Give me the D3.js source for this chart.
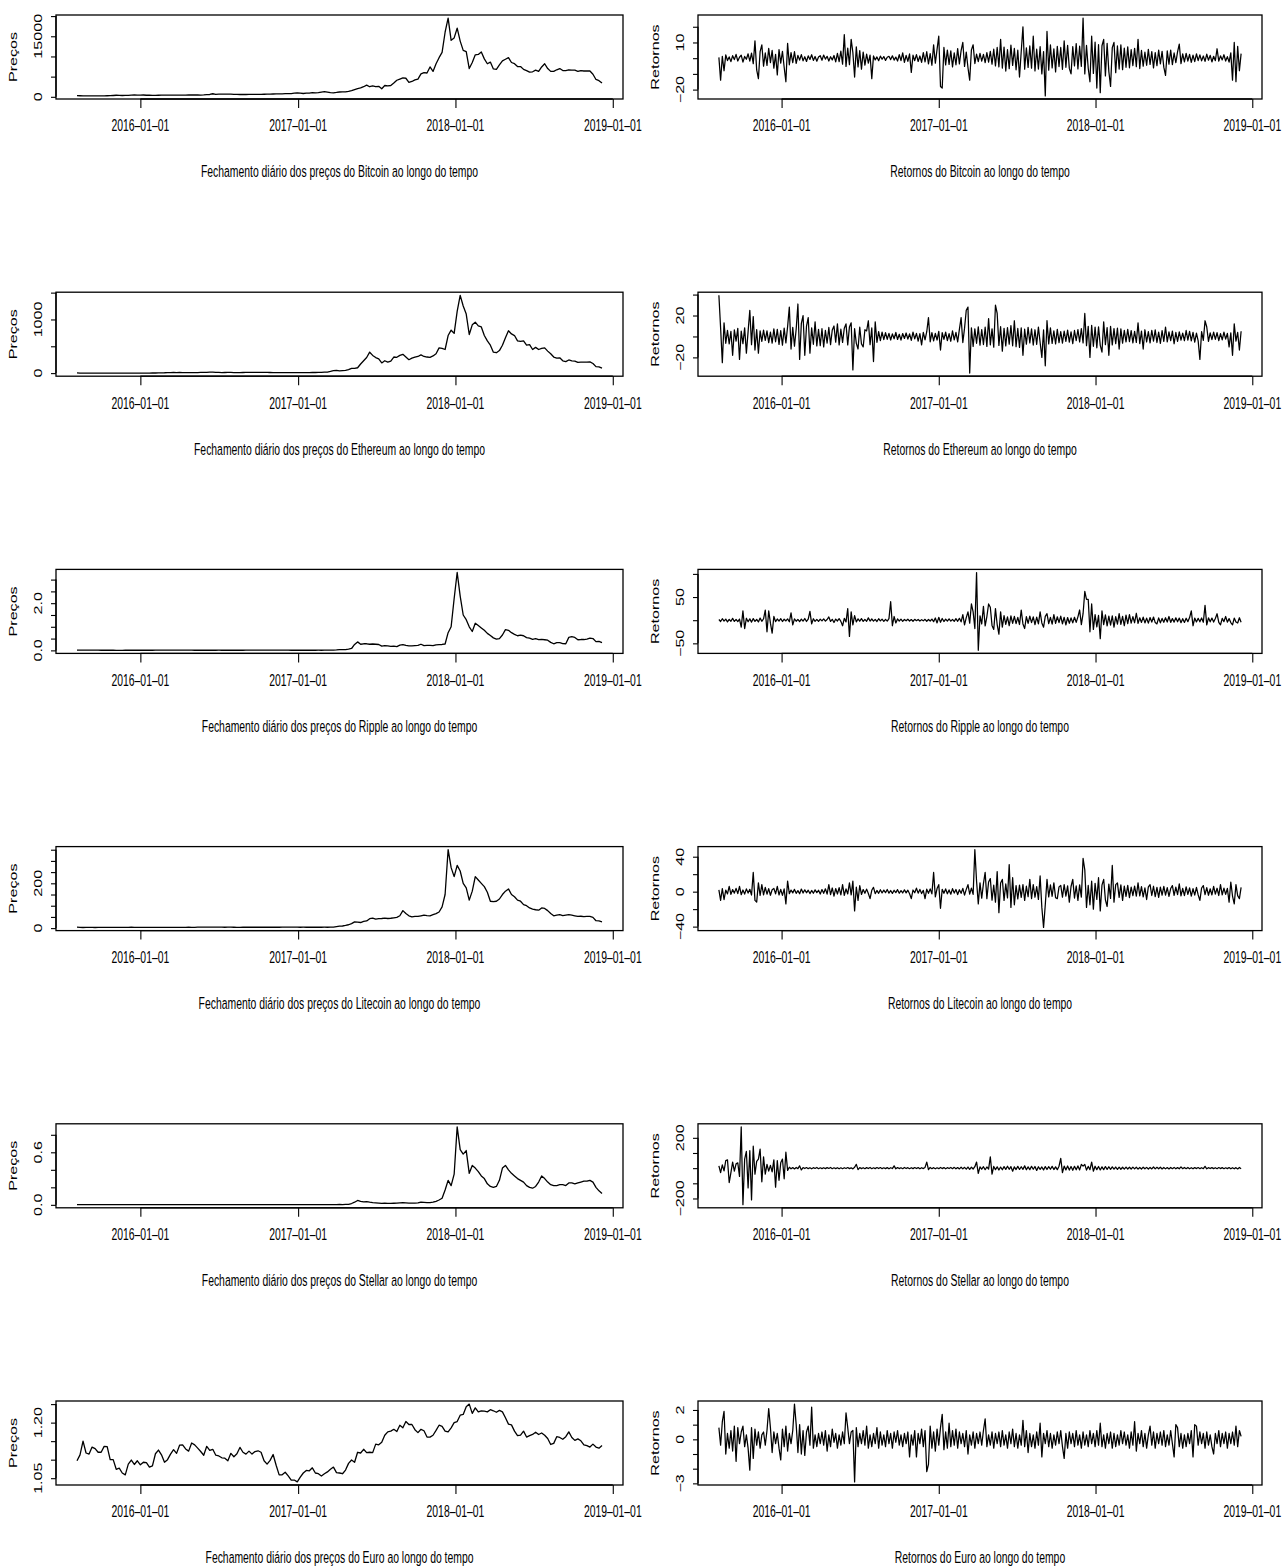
<!DOCTYPE html>
<html>
<head>
<meta charset="utf-8">
<script src="https://cdn.jsdelivr.net/npm/d3@7"></script>
<style>
  body { margin: 0; background: #fff; }
  text { font-family: "Liberation Sans", Arial, Helvetica, sans-serif; fill: #000; }
</style>
</head>
<body>
<svg id="fig" width="1285" height="1568"></svg>
<script>
// ---- data ----
var coins = ["Bitcoin", "Ethereum", "Ripple", "Litecoin", "Stellar", "Euro"];
var priceStart = "2015-08-07", priceStepDays = 7;   // weekly closes
var returnStart = "2015-08-08", returnStepDays = 4; // every 4th daily return
var xTickDates = ["2016-01-01", "2017-01-01", "2018-01-01", "2019-01-01"];

var btcPrice = [
  280,265,230,230, 230,240,230,235, 238,245,265,285,330, 385,335,330,360, 365,430,460,420,
  430,450,385,410,380, 375,390,410,430, 410,410,415,415, 420,420,430,450,455, 445,455,440,480, 540,580,760,620, 670,650,660,660,655, 590,590,575,580, 575,610,605,595, 605,615,640,655,690, 700,705,745,740, 770,770,790,900,
  960,900,820,900,920, 1030,1000,1060,1180, 1270,1150,1040,1000,1080, 1190,1200,1240,1350, 1550,1800,2050,2200, 2500,2900,2500,2700, 2500,2600,2000,2800,2700, 2800,3400,4100,4400, 4700,4600,3600,3800, 4200,4400,5700,6000,5900, 7400,6300,8200,9700, 11000,16000,19500,14000,
  14600,17000,13800,11500,11200, 7000,8500,10400,10500, 11100,9400,8200,8600,6900, 6800,7900,8900,9300, 9700,8500,8200,7500, 7500,6800,6500,6100, 6200,6600,6300,7400,8200, 7000,6300,6300,6700, 7000,6500,6500,6700, 6600,6600,6300,6500,6400, 6400,6400,5600,4300, 4000,3400
];
var ethPrice = [
  2.8,1.2,1.4,1.2, 1.3,1.0,0.9,0.8, 0.7,0.6,0.5,0.6,1.0, 1.0,0.9,0.9,0.9, 0.9,0.9,0.8,0.9,
  0.95,1.0,1.3,1.6,2.3, 2.5,5.5,5.0,6.5, 9.5,11,12,10.5, 11.5,9.5,8.5,7.5,8.8, 9.5,10.5,12.5,12.5, 14,18,20,14, 12,11,11.5,13,13, 10.5,10.5,11,11.2, 12,12,12.5,13, 13,12,12,12,11.5, 11,10.5,10,9, 8.5,8,7.8,7.3,
  8.2,10,10.2,10.6,10.6, 11.2,11.4,12.8,13.5, 19,20,31,45,50, 43,48,51,66, 90,89,100,170, 230,290,390,330, 290,265,190,230,205, 225,300,295,330, 350,300,250,280, 300,310,340,310,300, 295,320,360,470, 460,440,700,800,
  740,1150,1450,1250,1100, 720,900,950,880, 860,700,600,520,390, 380,420,520,660, 790,730,700,600, 590,600,520,530, 440,480,440,460,470, 410,360,300,280, 285,230,215,245, 230,225,200,205,203, 205,210,180,120, 115,92
];
var xrpPrice = [
  0.0080,0.0082,0.0078,0.0075, 0.0073,0.0072,0.0068,0.0066, 0.0058,0.0055,0.0052,0.0050,0.0048, 0.0042,0.0038,0.0040,0.0045, 0.0060,0.0065,0.0062,0.0060,
  0.0060,0.0062,0.0058,0.0060,0.0062, 0.0070,0.0085,0.0080,0.0082, 0.0088,0.0085,0.0080,0.0078, 0.0075,0.0072,0.0070,0.0068,0.0066, 0.0064,0.0062,0.0060,0.0058, 0.0060,0.0062,0.0065,0.0060, 0.0066,0.0064,0.0062,0.0060,0.0061, 0.0060,0.0062,0.0064,0.0065, 0.0070,0.0078,0.0082,0.0080, 0.0078,0.0080,0.0085,0.0082,0.0080, 0.0078,0.0075,0.0072,0.0070, 0.0068,0.0066,0.0064,0.0065,
  0.0064,0.0062,0.0065,0.0063,0.0062, 0.0062,0.0064,0.0066,0.0065, 0.0068,0.0080,0.010,0.015,0.022, 0.035,0.032,0.033,0.050, 0.080,0.25,0.36,0.26, 0.28,0.28,0.26,0.27, 0.26,0.25,0.18,0.20,0.19, 0.17,0.18,0.16,0.22, 0.24,0.21,0.19,0.19, 0.20,0.21,0.26,0.20,0.21, 0.21,0.20,0.23,0.24, 0.25,0.27,0.75,1.00,
  2.20,3.30,2.30,1.50,1.30, 1.00,0.80,1.15,1.05, 0.95,0.85,0.72,0.63,0.53, 0.48,0.50,0.65,0.88, 0.85,0.75,0.68,0.62, 0.65,0.62,0.54,0.52, 0.47,0.50,0.46,0.47,0.45, 0.43,0.34,0.28,0.33, 0.33,0.29,0.28,0.55, 0.58,0.55,0.45,0.46,0.46, 0.48,0.52,0.50,0.37, 0.38,0.33
];
var ltcPrice = [
  4.2,3.6,2.8,2.9, 2.9,2.9,2.8,2.9, 2.9,3.0,3.0,3.1,3.6, 3.5,3.2,3.3,3.4, 3.6,3.9,3.6,3.5,
  3.5,3.6,3.2,3.2,3.1, 3.4,3.3,3.3,3.3, 3.3,3.2,3.2,3.2, 3.2,3.3,3.6,3.8,3.7, 3.7,4.0,4.2,4.3, 4.2,4.5,4.4,4.0, 4.1,4.0,3.9,4.0,4.1, 3.8,3.7,3.7,3.8, 3.8,3.8,3.8,3.8, 3.8,3.8,3.8,3.9,3.9, 4.0,3.8,3.8,4.0, 4.0,4.2,4.1,4.4,
  4.5,3.9,4.0,3.9,3.8, 3.8,3.8,3.8,3.9, 4.0,3.9,4.1,4.3,6.5, 8.5,9.5,12,15, 20,28,27,25, 30,32,42,45, 40,42,43,45,43, 44,46,48,55, 78,65,55,50, 52,52,55,58,56, 55,60,65,72, 95,150,350,270,
  230,280,255,200,180, 125,165,230,215, 200,185,160,120,118, 120,130,150,165, 175,150,140,125, 120,105,100,90, 85,82,80,90,88, 78,65,55,58, 60,56,58,60, 58,55,52,53,51, 52,52,48,33, 32,28
];
var xlmPrice = [
  0.0030,0.0028,0.0026,0.0025, 0.0024,0.0024,0.0023,0.0022, 0.0022,0.0021,0.0021,0.0022,0.0023, 0.0022,0.0019,0.0019,0.0018, 0.0018,0.0018,0.0019,0.0019,
  0.0018,0.0018,0.0017,0.0017,0.0017, 0.0018,0.0021,0.0020,0.0019, 0.0020,0.0021,0.0020,0.0020, 0.0020,0.0021,0.0022,0.0022,0.0021, 0.0020,0.0019,0.0019,0.0020, 0.0021,0.0022,0.0023,0.0020, 0.0021,0.0020,0.0019,0.0019,0.0020, 0.0019,0.0018,0.0018,0.0018, 0.0019,0.0020,0.0020,0.0020, 0.0020,0.0020,0.0021,0.0021,0.0021, 0.0020,0.0020,0.0019,0.0019, 0.0019,0.0020,0.0021,0.0021,
  0.0022,0.0022,0.0022,0.0021,0.0021, 0.0021,0.0021,0.0021,0.0021, 0.0022,0.0022,0.0025,0.0028,0.0030, 0.0040,0.0035,0.0050,0.0060, 0.0150,0.0300,0.0500,0.0400, 0.0330,0.0370,0.0300,0.0250, 0.0230,0.0200,0.0160,0.0180,0.0170, 0.0170,0.0180,0.0190,0.0230, 0.0250,0.0220,0.0190,0.0200, 0.0200,0.0220,0.0300,0.0280,0.0260, 0.0260,0.0300,0.0400,0.0550, 0.0750,0.1700,0.2800,0.2200,
  0.35,0.89,0.63,0.58,0.62, 0.36,0.45,0.42,0.38, 0.33,0.30,0.24,0.21,0.20, 0.21,0.28,0.42,0.45, 0.40,0.36,0.33,0.30, 0.28,0.26,0.22,0.20, 0.19,0.21,0.26,0.33,0.30, 0.26,0.23,0.22,0.22, 0.23,0.23,0.22,0.25, 0.25,0.24,0.25,0.26,0.27, 0.27,0.28,0.26,0.20, 0.16,0.13
];
var eurPrice = [
  1.097,1.113,1.150,1.118, 1.115,1.134,1.130,1.120, 1.120,1.136,1.135,1.100,1.100, 1.074,1.077,1.064,1.059, 1.088,1.099,1.087,1.097,
  1.086,1.093,1.092,1.080,1.083, 1.116,1.126,1.113,1.093, 1.100,1.115,1.127,1.117, 1.139,1.140,1.129,1.123,1.145, 1.140,1.131,1.122,1.112, 1.136,1.125,1.128,1.112, 1.110,1.105,1.104,1.097,1.117, 1.108,1.116,1.133,1.120, 1.115,1.123,1.115,1.122, 1.124,1.120,1.097,1.088,1.098, 1.114,1.085,1.059,1.059, 1.066,1.056,1.045,1.045,
  1.040,1.053,1.064,1.071,1.070, 1.078,1.064,1.062,1.056, 1.062,1.067,1.074,1.080,1.065, 1.064,1.062,1.072,1.090, 1.099,1.093,1.120,1.118, 1.128,1.119,1.120,1.119, 1.142,1.140,1.147,1.166,1.175, 1.177,1.182,1.176,1.193, 1.186,1.203,1.195,1.195, 1.181,1.173,1.182,1.178,1.161, 1.161,1.166,1.179,1.193, 1.190,1.177,1.175,1.186,
  1.200,1.203,1.220,1.222,1.243, 1.250,1.225,1.240,1.229, 1.232,1.231,1.229,1.235,1.232, 1.228,1.233,1.229,1.213, 1.196,1.194,1.177,1.165, 1.166,1.177,1.161,1.165, 1.168,1.174,1.168,1.172,1.166, 1.157,1.141,1.144,1.162, 1.160,1.155,1.162,1.175, 1.160,1.152,1.156,1.151,1.140, 1.138,1.134,1.142,1.134, 1.131,1.138
];

var btcReturn = [
  0.5,-14,1.2,-8,2.1,-1.5,0.8,-2.2,1.6,-0.9,2.4,-1.8,0.6,1.9,-2.5,1.1,-0.7,2.8,-1.9,3.2,
  -3.5,11,-7.5,-13,4.2,8.5,-5.1,3.3,-4.6,6.2,-2.8,4.9,-6.3,2.4,-10.6,5.5,-3.1,4.4,-5.8,-15,
  9.5,-4.2,3.6,-2.9,4.1,-3.3,1.8,-1.2,2.3,-1.7,0.9,-2.1,1.5,-0.8,2.2,-1.4,1.1,-1.9,0.7,1.6,
  -1.3,2.0,-0.6,1.2,-1.8,0.9,-1.1,1.7,-2.4,3.1,-2.2,4.5,-3.8,15,-5.2,6.4,-4.1,12,3.5,-12,
  7.2,-5.6,4.8,-7,3.9,-4.4,2.6,-3.2,1.9,-13,1.4,-1.1,0.8,-1.6,1.3,-0.7,1.0,-1.4,0.6,1.2,
  -0.9,1.5,-1.2,0.7,-1.8,2.2,-1.5,3.4,-2.6,1.8,-2.0,2.7,-9,1.9,-1.6,2.3,-2.1,1.4,-2.7,3.6,
  -2.4,4.1,-3.7,2.9,-4.5,8.5,-3.2,5.6,14,-18,-19,6.8,-4.3,5.2,-3.9,4.7,-5.5,3.4,-4.2,6.1,
  -3.6,4.8,10,-5.2,3.9,-6.1,-14,5.3,8.5,-3.4,2.6,-2.2,3.1,-1.9,2.4,-2.8,3.5,-2.5,4.3,-3.8,
  5.7,-4.9,6.8,-5.5,12,-6.3,7.1,-8.2,5.4,-6.7,8.3,-4.6,6.2,-7.4,5.1,-12,4.3,20,-7,6.6,
  -5.9,7.8,-6.4,14,-8.1,5.7,-6.9,7.3,-10,4.2,-24,17,-7.6,8.4,-6.2,5.9,-8.7,7.5,-5.3,6.8,
  -7.1,11,-5.8,8.2,-6.5,-10,7.4,-4.9,9.3,-6.8,7.6,-5.2,25.5,-10,8.1,-6.4,-15,14,-9.7,10.2,
  -19,8.6,-22,7.9,12,-11.3,9.4,-8.5,-18,6.7,10,-9.2,7.8,-6.9,8.5,-7.3,6.4,-5.8,7.2,-6.1,
  5.5,-4.7,6.3,-5.4,12,-6.6,4.9,-5.1,3.8,-4.5,5.6,-3.9,4.2,-6.2,3.5,-4.8,5.1,-3.6,4.4,-5.7,
  -11,4.6,-3.8,5.2,-4.1,3.3,-2.9,4.0,9,-3.5,2.7,-2.3,3.1,-1.8,2.4,-2.6,1.9,-2.2,2.8,-1.5,
  2.1,-1.7,1.4,-2.0,2.6,-1.3,1.8,-2.4,1.2,-1.6,6,-1.9,1.5,-1.1,2.2,-1.8,1.0,-2.5,3.4,-14,
  10,-15,7.5,-8,2.9
];
var ethReturn = [
  39.3,8,-25,13,-6.5,5.8,-7.2,4.9,-18,6.3,-4.4,7.7,-22,5.1,-6.8,8.2,-16,4.6,25,-7.9,
  19,-13,6.6,-16,5.3,-4.7,6.1,-3.8,5.4,-5.9,4.2,-6.4,7.3,-5.1,6.8,-7.6,5.5,-8.4,7.9,-6.2,
  9.4,28,-12,8.7,-9.3,7.1,31,-22,12.5,20,-18,9.8,18,-16,8.3,-7.5,14,-9.1,6.7,-8.8,
  7.4,-10,5.9,-6.3,8.6,-7.8,6.2,10,-5.4,12,-8.1,6.9,-5.7,7.8,12,-8,9.1,13,-32,7.4,
  -6.6,-12,8.8,-7.2,-10,6.4,5.3,15,-7.9,8.1,-24,14,-5.6,4.7,-3.9,4.2,-3.1,3.6,-2.7,2.9,
  -3.4,2.5,-2.2,3.8,-2.9,2.1,-3.5,2.8,-1.9,3.3,-2.6,2.4,-3.8,4.1,-2.3,3.0,-4.4,2.7,-8,3.9,
  -3.2,4.5,18,-5.1,3.6,-4.2,2.9,-3.4,4.8,-13,3.7,-2.8,4.2,-3.9,2.6,-4.6,5.3,-3.3,4.0,-5.2,
  6.7,18,-5.8,7.9,25,28,-35,8.3,-9.6,7.2,-6.5,9.1,-8.4,6.6,-7.7,8.8,-9.5,17,-8,7.3,
  -10.2,30,22,-8.6,9.3,-14,7.8,-9.1,8.5,-7.3,10.4,-8.9,15,-9.8,7.6,-10.5,8.2,-18,6.9,-7.4,
  8.7,-6.1,7.3,-8.2,6.4,-7.5,8.9,-5.8,-20,6.2,-28,15,-7.1,8.3,-6.6,5.4,-7.2,6.8,-5.9,4.7,
  -6.3,5.2,-4.8,6.1,-5.5,4.3,-6.9,5.7,-4.1,6.6,-5.3,7.4,-6.2,22,-8.8,9.7,-20,10.6,-9.4,8.9,
  -10.8,9.2,-8.5,-15,14,-7.9,8.4,-18,9.6,-8.1,7.5,-6.8,8.0,-12,7.2,-6.4,5.8,-5.1,6.7,-4.9,
  5.6,-6.2,4.9,-5.7,13,-6.8,5.1,-12,6.4,-5.3,4.6,-6.1,5.9,-4.4,6.3,-5.8,4.1,-6.7,5.5,-4.8,
  9,-5.2,4.3,-3.9,5.1,-7,3.8,-4.6,4.4,-3.5,3.2,-4.1,5.7,-3.6,4.8,-4.3,3.9,-5.5,3.1,-4.2,
  -22,4.6,-3.7,15,9,-4.8,3.5,-3.1,4.2,-2.8,3.6,-3.9,2.7,-3.3,4.1,-2.5,3.0,-10,3.4,-18,
  12,-4.5,3.8,-13,5
];
var xrpReturn = [
  1.5,-2.8,3.2,-1.9,2.4,-3.6,1.8,-2.2,3.9,-2.7,1.6,-3.1,2.5,-15,20,-18,4.2,-3.3,2.8,-4.1,
  3.4,-2.6,1.9,-3.8,4.5,-2.4,3.1,22,-25,20,-6.5,-28,8,-3.2,2.6,-1.8,3.3,-2.9,2.1,-1.6,
  2.7,-3.4,16,-10,2.9,-2.3,1.7,-3.1,2.5,-1.9,3.6,-2.8,2.2,19,-8,3.1,-2.4,1.8,-2.7,2.3,
  -1.6,2.8,-2.1,1.5,7,-2.6,1.9,-5,2.4,-1.7,3.2,-2.5,-12,4.1,-3.6,25,-35,18,-10,10,
  -3.8,2.9,-2.2,3.4,-2.7,1.8,-2.4,5,-1.9,2.6,-2.1,1.7,-2.8,3.1,-1.5,2.3,-2.6,1.9,-2.0,3.5,
  40,-12,8,-6,2.7,-1.8,2.2,-2.5,1.6,-1.3,2.0,-1.7,1.4,-2.2,1.8,-1.1,1.5,-1.9,1.2,-1.4,
  1.9,-2.3,1.6,-1.8,2.5,-3.1,4.8,-5.9,6.2,-4.4,3.7,-2.9,2.4,-1.8,2.9,-2.1,1.7,-2.6,3.3,-2.4,
  4.1,-3.5,12,-10,5.7,18,-6.4,35,18,-18,103,-65,9.6,-8.2,30,-12.4,7.9,35,28,-11.3,
  -20,25,-9.4,-30,18,-15,10,-8.8,7.3,-12,9.1,-6.7,8.4,-7.5,6.2,-9.3,22,-8.1,-18,7.6,
  -6.9,8.8,-5.4,7.1,-9.7,6.5,-7.8,18,-5.9,-15,8.3,14,-7.2,6.1,-8.5,12,-6.8,7.4,-5.3,8.9,
  -7.7,6.3,-10,5.8,-6.6,4.9,-5.7,6.4,-4.8,7.2,22,-9.6,14,62,45,45,-25,35,-20,12,
  -14.5,10.3,-40,20,-9.8,11.6,-12.2,8.7,-10.4,9.5,-15,7.9,-8.6,14,-9.1,8.2,-12,10.8,-7.4,12,
  -6.2,7.8,-5.5,15,-6.9,5.2,-4.8,6.6,-5.9,4.4,-6.3,5.7,-4.1,6.8,-5.2,-8,4.9,-5.6,3.8,-4.5,
  5.3,-3.9,8,-4.7,3.6,-4.2,5.1,-3.4,4.6,-5.4,3.3,-4.9,4.2,-3.1,5.6,20,-12,4.7,-3.8,4.1,
  -3.5,4.8,-4.4,32,-10,5.2,-3.6,4.5,-4.1,3.7,14,-4.6,-10,3.9,-3.2,8,-4.3,3.4,-5.1,-10,
  4.6,-3.8,-6,5.3,-4.4
];
var ltcReturn = [
  2.1,-10,3.4,-9,1.8,-2.6,6,-3.1,2.4,-1.7,3.8,-2.2,6,-3.5,1.9,-2.8,3.2,-1.6,2.7,-3.9,
  22,-10,-12,10,-4.4,8,-3.6,4.8,-2.9,3.5,-4.1,2.2,3.7,-2.5,6,-3.8,2.6,-4.3,3.1,-14,
  12,-2.3,1.8,-1.4,2.6,-1.9,1.2,-2.4,3,-1.6,2.1,-1.3,1.7,-2.2,1.4,-1.8,2,-1.1,1.6,-2.7,
  2.4,-1.9,3.3,-2.8,8,-3.4,4.2,-5.1,3.6,-2.7,4.5,-3.8,8,-4.2,3.1,-2.6,10,-3.7,12,-22,
  5.3,-10,7,-3.2,2.4,-1.8,2.9,-2.1,-8,1.6,5,-2.3,1.4,-1.9,2.2,-1.5,1.8,-1.2,2.5,-1.7,
  1.3,-2.0,1.6,-1.1,2.3,-1.8,1.2,-1.5,2.1,-1.4,1.7,-2.4,-8,1.9,-1.3,4,-1.7,2.6,-2.2,1.5,
  -8,2.8,-1.9,3.2,-2.5,22,-6,3.6,8,-19,2.7,-1.8,3.1,-2.4,2.0,-2.9,3.4,-1.6,2.5,-3.3,
  2.2,-1.9,3.8,-4,2.6,8,-2.8,4,-3.1,48,12,-14,10,-7.5,9.2,22,-8,11,15,-9.8,
  7.4,-12,23,-24,10,14,-10,8.8,-7.2,31,-18,16,-15,6.9,-8.3,7.5,-6.6,8.1,-10,6.2,
  -5.8,14,-7.9,8,-6.4,5.7,-8.8,18,-18,-41,-15,14,-6.1,7.7,-5.3,10,-6.9,-8,5.5,7.2,
  -6.4,8,-5.1,6.6,-12,5.9,14,-7.3,6.5,-10,7.8,-6.2,38,25,-18,7.1,-15,12,-20,9.6,
  -8.9,16,-22,7.4,14,-9.3,-17,8.6,-7.8,30,-12,8.1,10,-6.5,7.9,-10,6.3,-5.4,7.2,-6.8,
  5.1,-4.6,6.4,-5.2,10,-4.8,5.8,-6.1,4.3,-9,5.5,8,-4.4,6.2,-5.7,4.9,-6.5,5.3,-4.1,6.0,
  -3.9,4.7,-5.4,3.6,7,-4.3,5.1,-3.4,9,-4.9,3.8,-4.5,5.6,-3.2,4.4,-5.1,3.5,-4.0,4.8,-3.7,
  -10,4.2,7,-3.5,4.6,-4.1,3.3,-3.8,6,-2.9,3.9,-4.4,8,-3.6,4.0,-3.1,3.7,-12,11,-5,
  -14,8,-4.5,-8,5
];
var xlmReturn = [
  15,-30,22,-18,50,55,-95,-30,40,-20,28,35,-55,272,-241,60,110,-130,115,-210,
  145,-40,45,60,125,-90,75,-40,25,-20,18,-24,55,-125,50,-80,35,60,-70,105,
  -15,6,-4,3.5,-5,4.2,-3.1,15,-12,3.8,-2.6,4.1,-3.4,2.9,-4.5,3.2,-2.2,4.6,-3.7,2.4,
  -3.3,2.7,-2.9,3.6,-2.1,4.4,-3.8,2.3,-2.8,3.1,-4.2,2.5,-3.5,2.9,-2.4,3.9,-3.0,2.2,-4.8,6,
  25,-10,4.1,-3.2,2.8,-3.9,3.4,-2.5,4.7,-3.6,2.6,-3.1,3.8,-2.7,4.2,-3.4,2.3,-2.9,3.5,-4.1,
  3.0,-2.6,15,-4.4,3.7,-2.8,2.9,-3.5,4.3,-2.4,3.2,-3.9,2.7,-3.3,4.0,-2.5,3.6,-4.6,2.8,-3.0,
  5,40,-10,4.5,-3.8,3.3,-4.1,2.6,-3.4,4.9,-2.9,3.7,-4.3,3.1,-2.7,4.4,-3.6,5.2,-4.5,3.8,
  -5.1,6.3,-4.7,5.5,-6.8,7.4,-8.2,6.1,-5.6,9.3,40,-35,8.4,-7.1,9.6,-10.3,7.8,-6.4,75,-40,
  11.2,-9.5,8.7,-12.1,7.3,-10.8,9.9,-8.1,12.4,-7.6,10.1,-20,8.9,-9.2,11.5,-8.7,9.4,-7.9,15,-10.6,
  8.3,-9.8,12.2,-7.4,10.7,-15,9.1,-8.5,7.7,-11.3,10.4,-8.9,9.6,-7.2,11.8,-9.3,8.6,-10.1,12.9,65,
  -30,13.7,-11.4,14.2,-12.6,10.9,-13.8,12.3,-10.5,14.9,-11.7,25,13.1,25,-12.8,11.6,-10.2,40,-20,12.5,
  -9.7,10.8,-11.9,8.2,-9.9,10.6,-8.4,9.3,-7.6,8.8,-6.9,7.4,-8.1,6.5,-7.3,5.9,-6.6,7.1,-5.4,6.2,
  -5.8,6.9,-4.9,5.7,-6.3,4.6,-5.5,6.4,-4.3,5.2,-6.0,4.8,-5.1,7.8,-4.6,5.5,-3.9,6.1,-5.3,4.4,
  -4.8,3.9,-5.2,4.7,-3.6,5.0,-4.4,3.5,-4.1,8,-3.8,4.3,-3.3,4.6,-3.9,3.2,-4.5,3.8,-2.9,4.0,
  -3.4,2.8,-3.7,12,-4.2,3.1,-2.6,3.6,-3.0,2.7,-3.5,4.1,-2.8,3.3,-3.9,2.5,-3.2,3.7,-4.6,3.0,
  -4.1,3.4,-5,4.2,-3.6
];
var eurReturn = [
  0.8,-0.4,1.2,1.9,-1.0,0.4,-0.6,0.6,-0.8,0.9,-1.5,0.8,-0.3,0.5,0.9,-0.5,0.3,-0.6,-2.1,0.8,
  -1.3,0.7,-0.4,0.5,-0.6,0.3,0.5,-0.4,0.6,2.1,0.8,-0.9,0.5,-0.3,0.4,-0.6,-1.4,0.7,-0.5,0.9,
  -0.8,0.4,-0.3,0.6,2.4,1.0,-0.9,1.0,-1.0,0.6,-1.1,0.5,0.9,-0.4,2.2,-0.6,0.3,-0.5,0.4,-0.3,
  0.5,-0.4,0.6,-0.8,0.3,-0.5,0.7,-0.2,0.4,-0.6,0.3,-0.4,0.5,-0.3,1.8,0.8,-0.3,0.5,0.6,-2.9,
  0.8,-0.5,0.4,-0.3,0.6,-0.4,0.9,-0.6,0.3,-0.5,0.4,-0.3,0.8,-0.6,0.5,-0.4,0.3,-0.5,0.6,-0.3,
  0.4,-0.6,0.5,-0.2,0.6,-0.4,0.3,-0.5,0.4,-0.3,0.5,-1.2,0.3,-0.4,0.6,-1.2,0.4,-0.3,0.7,-0.5,
  0.6,-2.2,-1.7,0.9,-0.6,0.5,-0.8,0.7,-0.4,0.8,1.7,-0.7,0.5,-0.6,1.1,-0.5,0.6,-0.4,0.7,-0.6,
  0.5,-0.3,0.4,-0.5,0.6,-1.0,0.3,-0.4,0.5,-0.6,0.4,-0.3,0.5,-0.4,0.6,1.4,-0.5,0.3,-0.4,0.5,
  -0.6,0.4,-0.3,0.5,-0.5,0.6,-0.4,0.3,-0.6,0.5,-0.3,0.7,-0.5,0.4,-0.6,0.3,-0.4,1.3,-0.5,0.6,
  -0.9,0.4,-0.5,0.3,-0.6,0.5,-0.4,1.1,-1.2,0.4,-0.3,0.6,-0.5,0.4,-0.6,0.3,-0.4,0.5,-0.3,0.6,
  -0.5,-1.3,0.4,-0.6,0.5,-0.3,0.4,-0.5,0.6,-0.4,0.3,-0.6,0.5,-0.4,0.3,-0.5,0.6,-0.3,0.4,-0.5,
  0.6,-0.4,1.1,-0.5,0.3,-0.6,0.4,-0.3,0.5,-0.6,0.4,-0.5,0.3,-0.4,0.6,-0.3,0.5,-0.4,0.3,-0.6,
  0.5,-0.4,1.2,-0.8,0.4,-0.3,0.6,-0.5,0.4,-0.6,0.3,0.9,-0.4,0.5,-0.6,0.4,-0.3,0.5,-0.4,0.6,
  -0.5,0.3,-0.4,0.6,-0.3,-1.2,1.0,0.8,-0.5,0.4,-0.6,0.3,-0.5,0.4,-0.3,0.6,-1.2,1.0,0.9,-0.4,
  0.5,-0.3,0.4,-0.6,0.5,-0.4,0.3,-0.5,-1.0,0.4,-0.3,0.6,-0.5,0.4,-0.3,0.5,-0.6,0.4,-0.3,0.5,
  -0.4,0.9,-0.5,0.6,0.2
];

// y ticks per row, and which of them carry a label
var priceTicks = [[0,5000,10000,15000,20000], [0,500,1000,1500], [0,0.5,1,1.5,2,2.5,3],
                  [0,50,100,150,200,250,300,350], [0,0.2,0.4,0.6,0.8], [1.05,1.10,1.15,1.20,1.25]];
var priceTickLabels = [[0,15000], [0,1000], [0,2], [0,200], [0,0.6], [1.05,1.20]];
var priceDecimals = [0, 0, 1, 0, 1, 2];
var returnTicks = [[-20,-10,0,10,20], [-20,0,20,40], [-50,0,50,100],
                   [-40,-20,0,20,40], [-200,-100,0,100,200], [-3,-2,-1,0,1,2]];
var returnTickLabels = [[-20,10], [-20,20], [-50,50], [-40,0,40], [-200,200], [-3,0,2]];

// ---- layout ----
var rowTop0 = 15, rowStep = 277.2, boxH = 84;
var colX = [[56, 623], [698, 1262]];
var stretch = 1.55;   // the source picture is stretched vertically
var fontSize = 10.4;

var svg = d3.select("#fig");
var parse = d3.utcParse("%Y-%m-%d");
var fmtDate = d3.utcFormat("%Y-%m-%d");

function padded(lo, hi) {
  var r = hi - lo;
  return [lo - 0.04 * r, hi + 0.04 * r];
}

function label(g, x, y, txt, rotate) {
  g.append("text")
    .attr("transform", "translate(" + x + "," + y + ") scale(1," + stretch + ")" + (rotate ? " rotate(-90)" : ""))
    .attr("text-anchor", "middle")
    .attr("dominant-baseline", "central")
    .style("font-size", fontSize + "px")
    .text(txt);
}

function drawPanel(row, col, values, start, step, ticks, tickLabels, decimals, ylab, title, lw) {
  var x0 = colX[col][0], x1 = colX[col][1];
  var top = rowTop0 + row * rowStep, bottom = top + boxH;
  var t0 = parse(start);
  var dates = values.map(function(d, i) { return d3.utcDay.offset(t0, i * step); });

  var xd = padded(+dates[0], +dates[dates.length - 1]);
  var x = d3.scaleUtc().domain([new Date(xd[0]), new Date(xd[1])]).range([x0, x1]);
  var y = d3.scaleLinear().domain(padded(d3.min(values), d3.max(values))).range([bottom, top]);

  var g = svg.append("g");

  var line = d3.line()
    .x(function(d, i) { return x(dates[i]); })
    .y(function(d) { return y(d); });
  g.append("path").datum(values)
    .attr("fill", "none").attr("stroke", "#000")
    .attr("stroke-width", lw).attr("stroke-linejoin", "round")
    .attr("d", line);

  g.append("rect")
    .attr("x", x0).attr("y", top).attr("width", x1 - x0).attr("height", boxH)
    .attr("fill", "none").attr("stroke", "#000").attr("stroke-width", 1.3);

  // x axis
  var xt = xTickDates.map(parse);
  var xa = g.append("g").attr("transform", "translate(0," + bottom + ")")
    .call(d3.axisBottom(x).tickValues(xt).tickSize(9).tickFormat(""));
  xa.select(".domain").remove();
  xa.selectAll("line").attr("stroke-width", 1.1);
  g.append("line").attr("x1", x(xt[0])).attr("x2", x(xt[xt.length - 1]))
    .attr("y1", bottom).attr("y2", bottom).attr("stroke", "#000").attr("stroke-width", 1.3);
  xt.forEach(function(d) {
    label(g, x(d), bottom + 27, fmtDate(d).replace(/-/g, "\u2013"), false);
  });

  // y axis
  var ya = g.append("g").attr("transform", "translate(" + x0 + ",0)")
    .call(d3.axisLeft(y).tickValues(ticks).tickSize(5).tickFormat(""));
  ya.select(".domain").remove();
  ya.selectAll("line").attr("stroke-width", 1.1);
  g.append("line").attr("x1", x0).attr("x2", x0)
    .attr("y1", y(ticks[0])).attr("y2", y(ticks[ticks.length - 1]))
    .attr("stroke", "#000").attr("stroke-width", 1.3);
  tickLabels.forEach(function(v) {
    label(g, x0 - 17, y(v), v.toFixed(decimals).replace("-", "\u2212"), true);
  });

  label(g, x0 - 42, (top + bottom) / 2, ylab, true);
  label(g, (x0 + x1) / 2, bottom + 73, title, false);
}

var prices = [btcPrice, ethPrice, xrpPrice, ltcPrice, xlmPrice, eurPrice];
var returns = [btcReturn, ethReturn, xrpReturn, ltcReturn, xlmReturn, eurReturn];

coins.forEach(function(name, r) {
  drawPanel(r, 0, prices[r], priceStart, priceStepDays, priceTicks[r], priceTickLabels[r], priceDecimals[r],
    "Preços", "Fechamento diário dos preços do " + name + " ao longo do tempo", 1.3);
  drawPanel(r, 1, returns[r], returnStart, returnStepDays, returnTicks[r], returnTickLabels[r], 0,
    "Retornos", "Retornos do " + name + " ao longo do tempo", 1.25);
});
</script>
</body>
</html>
